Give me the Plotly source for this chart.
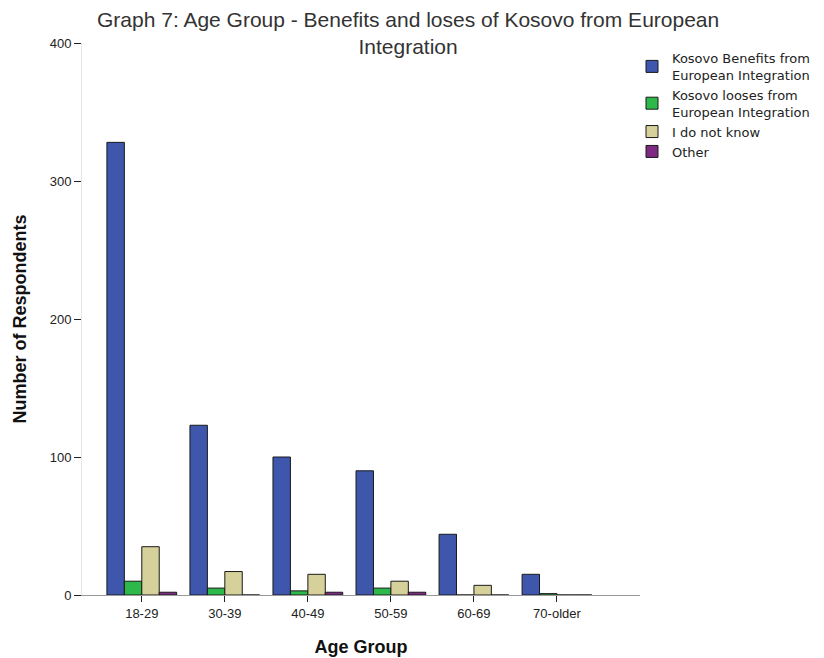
import plotly.graph_objects as go

# Survey counts by age group
age_groups = ["18-29", "30-39", "40-49", "50-59", "60-69", "70-older"]
benefits = [328, 123, 100, 90, 44, 15]
looses = [10, 5, 3, 5, 0, 1]
dont_know = [35, 17, 15, 10, 7, 0]
other = [2, 0, 2, 2, 0, 0]

series_names = [
    "Kosovo Benefits from<br>European Integration",
    "Kosovo looses from<br>European Integration",
    "I do not know",
    "Other",
]
series_values = [benefits, looses, dont_know, other]
series_colors = ["#3E56AC", "#2DB94A", "#D6D09A", "#7E2A82"]

fig = go.Figure()
for name, vals, col in zip(series_names, series_values, series_colors):
    fig.add_trace(go.Bar(
        x=age_groups, y=vals, name=name,
        marker=dict(color=col, line=dict(color="#1a1a1a", width=1)),
    ))

font_family = "Arial, Liberation Sans, sans-serif"
plot_w = 824 - 82 - 184
plot_h = 658 - 43 - 63

fig.update_layout(
    width=824, height=658,
    margin=dict(l=82, r=184, t=43, b=63, autoexpand=False),
    paper_bgcolor="white", plot_bgcolor="white",
    barmode="group", bargap=0.16, bargroupgap=0,
    font=dict(family=font_family, size=13, color="#222222"),
    legend=dict(
        x=(632 - 82) / plot_w, y=1 - (43 - 43) / plot_h, xanchor="left", yanchor="top",
        font=dict(size=13, color="#222222", family="DejaVu Sans, sans-serif"),
        bgcolor="rgba(0,0,0,0)", tracegroupgap=0, itemwidth=30,
        traceorder="normal",
    ),
    showlegend=True,
)

# Chart title, two centred lines above the plot area
fig.add_annotation(
    text="Graph 7: Age Group - Benefits and loses of Kosovo from European<br>Integration",
    xref="paper", yref="paper", x=(408 - 82) / plot_w, y=1 + (43 - 6) / plot_h,
    xanchor="center", yanchor="top", showarrow=False, align="center",
    font=dict(size=21, color="#333333", family=font_family),
)

fig.update_xaxes(
    range=[-0.72, 6.0],
    showline=True, linecolor="#9a9a9a", linewidth=1,
    ticks="outside", ticklen=6, tickcolor="#222222",
    showgrid=False,
    title=dict(text="<b>Age Group</b>", font=dict(size=18, color="#111111"), standoff=20),
    tickfont=dict(size=13),
)
fig.update_yaxes(
    range=[0, 400], tickvals=[0, 100, 200, 300, 400],
    showline=True, linecolor="#e6e6e6", linewidth=1,
    ticks="outside", ticklen=7, tickcolor="#222222",
    showgrid=False, zeroline=False,
    title=dict(text="<b>Number of Respondents</b>", font=dict(size=18, color="#111111"), standoff=18),
    tickfont=dict(size=13),
)

fig.write_html("out.html")
